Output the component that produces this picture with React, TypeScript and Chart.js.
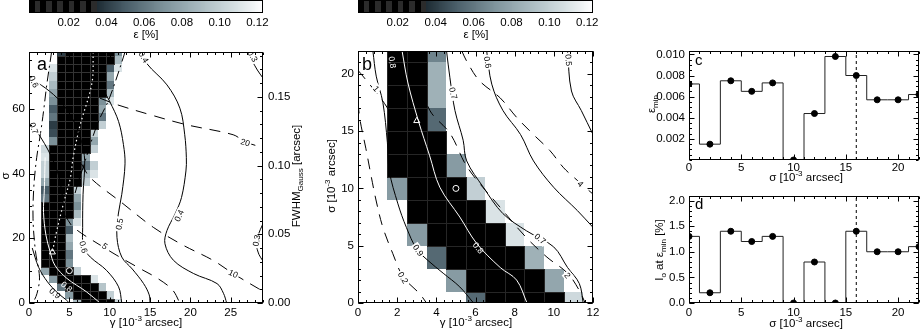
import React, { useEffect, useRef } from 'react';
import { Chart, registerables } from 'chart.js';

Chart.register(...registerables);

const FONT = "'Liberation Sans', Arial, Helvetica, sans-serif";
Chart.defaults.font.family = FONT;
Chart.defaults.font.size = 11.5;
Chart.defaults.color = '#000';

type Pt = [number, number];

// ---------------- colour bar ----------------
const CB_MIN = -0.001;
const CB_MAX = 0.123;
const CB_TICKS = [0.02, 0.04, 0.06, 0.08, 0.1, 0.12];
const CB_BLACK_END = 0.035;
const CB_STRIPE = 0.003;
const CMAP_STOPS: [number, number[]][] = [
  [0.035, [30, 44, 52]],
  [0.05, [72, 92, 103]],
  [0.07, [124, 145, 153]],
  [0.09, [170, 187, 193]],
  [0.11, [218, 227, 230]],
  [0.123, [255, 255, 255]],
];

// ---------------- panel a ----------------
const A_X_MAX = 29;
const A_Y_MAX = 77.6;
const FWHM_PER_SIGMA = 0.0023548;
const A_X_TICKS = [0, 5, 10, 15, 20, 25];
const A_Y_TICKS = [0, 20, 40, 60];
const A_Y2_TICKS = [0, 0.05, 0.1, 0.15];
const A_GAMMA = [0, 1, 2, 3, 4, 5, 6, 7, 8, 9, 10, 11, 12];
const A_SIGMA = [0, 2.5, 5, 7.5, 10, 12.5, 15, 17.5, 20, 22.5, 25, 27.5, 30, 32.5, 35, 37.5,
  40, 42.5, 45, 47.5, 50, 52.5, 55, 57.5, 60, 62.5, 65, 67.5, 70, 72.5, 75, 77.5];
const W = 0.2; // above the colour range -> white
const B = 0.01; // black
const A_EPS: number[][] = [
  [W, W, W, W, W, W, 0.09, B, B, B, B, 0.105],
  [W, W, W, W, W, 0.075, B, B, B, B, 0.1],
  [W, W, W, W, 0.06, B, B, B, B, 0.095],
  [W, W, W, 0.075, B, B, B, B, 0.11],
  [W, W, 0.08, B, B, B, 0.1],
  [W, W, B, B, B, 0.07],
  [W, W, B, B, B, 0.06],
  [W, W, B, B, B, 0.08],
  [W, W, B, B, B, 0.09],
  [W, W, B, B, B, 0.05],
  [W, W, B, B, B, 0.07, 0.11],
  [W, W, B, B, B, B, 0.09],
  [W, W, B, B, B, B, 0.07],
  [W, W, 0.06, B, B, B, 0.08],
  [W, W, 0.05, B, B, B, 0.1],
  [W, W, 0.08, B, B, B, B, 0.1],
  [W, W, 0.1, B, B, B, B, 0.09, 0.11],
  [W, W, 0.1, B, B, B, B, 0.06, 0.1],
  [W, W, 0.11, B, B, B, B, 0.08],
  [W, W, 0.105, B, B, B, B, B, 0.1],
  [W, W, W, 0.07, B, B, B, B, 0.08],
  [W, W, W, 0.045, B, B, B, B, 0.1],
  [W, W, W, 0.04, B, B, B, B, B, 0.1],
  [W, W, W, 0.06, B, B, B, B, B, 0.06],
  [W, W, W, 0.05, B, B, B, B, B, 0.08],
  [W, W, W, 0.07, B, B, B, B, B, 0.07, 0.11],
  [W, W, W, 0.08, B, B, B, B, B, B, 0.09],
  [W, W, W, 0.09, B, B, B, B, B, B, 0.06],
  [W, W, W, 0.1, B, B, B, B, B, B, 0.08],
  [W, W, W, 0.11, B, B, B, B, B, B, 0.05, 0.11],
  [W, W, W, W, B, B, B, B, B, B, B, 0.09],
  [W, W, W, W, 0.04, B, B, B, B, B, B, 0.07],
];
// contours (gamma, sigma)
const A_C03_TOP: Pt[] = [[26.9, 77.6], [27.6, 75], [28.3, 72], [29, 69.5]];
const A_C03_LOW: Pt[] = [[29, 24.5], [28.4, 21], [28.2, 18], [28.5, 15], [29, 13]];
const A_C04: Pt[] = [[14.0, 77.6], [14.6, 74], [17.1, 67.4], [18.7, 60.2], [19.3, 52], [19.5, 44.9], [19.45, 40.8],
  [18.9, 32.6], [18.1, 27.5], [17.1, 22.4], [16.85, 18.3], [17.9, 13.2], [20.4, 9.1], [23.3, 6.0], [24.1, 3.0], [24.5, 0]];
const A_C05: Pt[] = [[9.4, 65], [10.0, 62.3], [11.1, 56.1], [11.7, 49], [11.9, 43], [11.5, 33.6], [11.07, 27.5],
  [10.9, 20.3], [11.5, 14.2], [12.8, 10.5], [14.2, 6], [14.9, 2.5], [15.0, 0]];
const A_C06: Pt[] = [[0, 69.5], [2, 66.5], [4, 62], [5.6, 56], [6.5, 50], [6.9, 44], [6.7, 33.6], [6.65, 23.4],
  [6.75, 17.3], [7.6, 14.2], [9.6, 10.1], [11.1, 5], [11.5, 0]];
const A_C07: Pt[] = [[0, 56], [1.5, 51], [3, 44], [3.8, 38], [4.3, 30]];
const A_C09: Pt[] = [[0.4, 17], [1.2, 11], [2.3, 6.5], [3.6, 3], [4.6, 1], [5.0, 0]];
const A_C08_WHITE: Pt[] = [[2.0, 45], [1.9, 35], [1.8, 28], [2.1, 21], [2.6, 16], [3.2, 11.7], [4.7, 7.6], [7.1, 3.5], [8.8, 0]];
const A_DOTTED_WHITE: Pt[] = [[7.96, 77.6], [7.8, 68], [6.3, 54.6], [5.5, 45.4], [5.1, 38.3], [4.3, 31], [3.4, 21.9], [2.9, 15.7]];
const A_D5: Pt[] = [[4.5, 27], [5.5, 23.4], [9.2, 17.3], [10.9, 14.7], [13.5, 11], [16, 7.5], [17.8, 4], [18.7, 0]];
const A_D10: Pt[] = [[6.5, 43], [7.6, 38.7], [11.5, 31], [15.4, 23.4], [19, 18], [22.8, 13.2], [25.3, 9.1], [28.4, 4.5], [29, 3.7]];
const A_D20: Pt[] = [[8.8, 63.3], [10.9, 61.3], [15, 58.2], [19.5, 55.1], [25.3, 52], [26.8, 49.8], [29, 48]];
const A_DD_LEFT: Pt[] = [[2.8, 77.6], [2.2, 67.4], [1.8, 59.2], [1.4, 52], [0.95, 44.9], [0.6, 36], [0.5, 26], [0.8, 16], [1.3, 8], [1.0, 3], [0.5, 0]];
const A_DD_RIGHT: Pt[] = [[11.9, 77.6], [11.7, 76], [10.7, 68.4], [9.8, 62.3], [8.6, 56.1], [7.6, 49], [6.7, 41.8], [6.3, 39], [5.6, 33]];
const A_CIRCLE: Pt = [5, 10];
const A_TRIANGLE: Pt = [2.9, 15.7];

// ---------------- panel b ----------------
const B_X_MAX = 12;
const B_Y_MAX = 22;
const B_X_TICKS = [0, 2, 4, 6, 8, 10, 12];
const B_Y_TICKS = [0, 5, 10, 15, 20];
const B_GAMMA = [0, 1, 2, 3, 4, 5, 6, 7, 8, 9, 10, 11, 12];
const B_SIGMA = [0, 2, 4, 6, 8, 10, 12, 14, 16, 18, 20, 22];
const B_EPS: number[][] = [
  [W, W, W, W, W, W, 0.055, B, B, B, B, 0.105],
  [W, W, W, W, W, 0.075, B, B, B, B, 0.08],
  [W, W, W, W, 0.055, B, B, B, B, 0.085],
  [W, W, W, 0.075, B, B, B, B, 0.11],
  [W, W, W, B, B, B, B, 0.11],
  [W, W, 0.075, B, B, B, 0.1],
  [W, W, B, B, B, 0.075],
  [W, W, B, B, B],
  [W, W, B, B, 0.055],
  [W, W, B, B, 0.085],
  [W, W, B, B, 0.085],
  [W, W, B, B, 0.065],
];
const B_C05: Pt[] = [[10.7, 22], [10.9, 18.5], [11.4, 16.8], [12, 14.7]];
const B_C06: Pt[] = [[6.57, 22], [6.83, 19.1], [7.4, 16.8], [8.3, 14.7], [8.96, 12.4], [9.99, 10.1], [11.2, 8.07], [12, 6.6]];
const B_C07: Pt[] = [[4.52, 22], [4.69, 19.7], [4.95, 16.8], [5.37, 14.2], [5.55, 12.4], [6.4, 10.1], [7.4, 7.8], [8.6, 6.3],
  [9.99, 4.9], [10.7, 3.1], [11.3, 1.7], [11.5, 0]];
const B_C09: Pt[] = [[0.76, 22], [0.93, 19.8], [1.27, 17.5], [1.5, 14], [1.6, 11.5], [2.04, 8.65], [2.47, 6.6], [3.0, 4.7],
  [3.58, 3.7], [4.35, 2.6], [5.2, 1.4], [5.9, 0]];
const B_C08_WHITE: Pt[] = [[2.25, 22], [2.55, 19.2], [3.1, 15.8], [3.65, 12.9], [4.18, 10.1], [5.2, 7.5], [6.06, 5.2], [7.26, 3.1], [8.1, 2], [8.63, 0]];
const B_D2: Pt[] = [[2.9, 22], [3.2, 19.5], [3.67, 16.8], [4.7, 14.8], [5.6, 11.8], [7.26, 8.35], [8.6, 5.7], [9.65, 4], [10.7, 2.6], [11.3, 1.1], [11.6, 0]];
const B_D4: Pt[] = [[5.3, 22], [5.55, 21.1], [6.2, 19.4], [7.26, 17.9], [8.1, 16.2], [8.96, 14.7], [9.8, 13.3], [10.5, 11.8], [11.2, 10.7], [12, 9.5]];
const B_D1: Pt[] = [[0, 20.3], [0.25, 19.8], [1.36, 17.4], [2.0, 15.5]];
const B_D02: Pt[] = [[0, 17.5], [0.1, 16], [0.4, 13.5], [0.68, 11], [0.93, 8.9], [1.27, 6.6], [1.78, 4.3], [2.3, 2.3], [3.15, 0.8], [3.5, 0]];
const B_CIRCLE: Pt = [5, 10];
const B_TRIANGLE: Pt = [3.0, 15.9];

// ---------------- panels c and d ----------------
const CD_SIGMA = [0, 2, 4, 6, 8, 10, 12, 14, 16, 18, 20, 22];
const C_EPS_MIN = [0.0072, 0.0015, 0.0075, 0.0065, 0.0073, 0.0, 0.0044, 0.0098, 0.0080, 0.0057, 0.0057, 0.0062];
const D_IO = [1.3, 0.2, 1.4, 1.2, 1.3, 0.0, 0.8, 0.0, 1.4, 1.0, 1.0, 1.1];
const CD_X_MAX = 22;
const CD_X_TICKS = [0, 5, 10, 15, 20];
const C_Y_MAX = 0.01033;
const C_Y_TICKS = [0.002, 0.004, 0.006, 0.008, 0.01];
const D_Y_MAX = 2.09;
const D_Y_TICKS = [0, 0.5, 1.0, 1.5, 2.0];
const CD_MARK = 16;

// ---------------- helpers ----------------
const DASH_LONG = [11, 8];
const DASH_DOT = [10, 4, 2, 4];
const DOTS = [1.5, 3];

function steps(a: number, b: number, s: number): number[] {
  const out: number[] = [];
  for (let i = 0; a + i * s <= b + 1e-9; i++) out.push(Math.round((a + i * s) * 1e6) / 1e6);
  return out;
}

function cmap(v: number): string | null {
  if (v < CB_BLACK_END) return '#000';
  if (v >= CMAP_STOPS[CMAP_STOPS.length - 1][0]) return null;
  for (let i = 0; i < CMAP_STOPS.length - 1; i++) {
    const [v0, c0] = CMAP_STOPS[i];
    const [v1, c1] = CMAP_STOPS[i + 1];
    if (v >= v0 && v <= v1) {
      const f = (v - v0) / (v1 - v0);
      const c = c0.map((x, j) => Math.round(x + (c1[j] - x) * f));
      return `rgb(${c[0]},${c[1]},${c[2]})`;
    }
  }
  return null;
}

type Seg = { t: string; k?: 'sup' | 'sub' };
type Title = { segs: Seg[]; x: number; y: number; rot: number; size?: number };
type TickSpec = { side: 'top' | 'bottom' | 'left' | 'right'; scale: string; major: number[]; minor: number[] };
type CLabel = { t: string; x: number; y: number; rot: number; white?: boolean; bg?: boolean };
type Cells = { xs: number[]; ys: number[]; vals: number[][]; w: number; h: number; grid: string };
type Decor = {
  cells?: Cells;
  ticks: TickSpec[];
  labels?: CLabel[];
  letter?: { t: string; x: number; y: number; size: number };
  titles: Title[];
  box?: boolean;
  colorbar?: boolean;
};

function drawRich(ctx: CanvasRenderingContext2D, t: Title) {
  const size = t.size ?? 11.5;
  const small = size * 0.7;
  ctx.save();
  ctx.translate(t.x, t.y);
  ctx.rotate((t.rot * Math.PI) / 180);
  let w = 0;
  for (const s of t.segs) {
    ctx.font = `${s.k ? small : size}px ${FONT}`;
    w += ctx.measureText(s.t).width;
  }
  let cx = -w / 2;
  ctx.textBaseline = 'middle';
  ctx.textAlign = 'left';
  ctx.fillStyle = '#000';
  for (const s of t.segs) {
    ctx.font = `${s.k ? small : size}px ${FONT}`;
    const dy = s.k === 'sup' ? -size * 0.35 : s.k === 'sub' ? size * 0.3 : 0;
    ctx.fillText(s.t, cx, dy);
    cx += ctx.measureText(s.t).width;
  }
  ctx.restore();
}

function makeDecor(d: Decor) {
  return {
    id: 'decor',
    beforeDatasetsDraw(chart: any) {
      const { ctx, chartArea: a } = chart;
      if (d.colorbar) {
        const sx = chart.scales.x;
        const step = 0.0005;
        for (let v = CB_MIN; v < CB_MAX; v += step) {
          let col: string | null;
          if (v < CB_BLACK_END) col = Math.floor((v - CB_MIN) / CB_STRIPE) % 2 === 0 ? '#000' : '#2b2b2b';
          else col = cmap(v + step / 2) ?? '#fff';
          const x0 = Math.round(sx.getPixelForValue(v));
          const x1 = Math.round(sx.getPixelForValue(Math.min(v + step, CB_MAX)));
          ctx.fillStyle = col;
          ctx.fillRect(x0, a.top, Math.max(1, x1 - x0), a.bottom - a.top);
        }
      }
      const c = d.cells;
      if (!c) return;
      const sx = chart.scales.x;
      const sy = chart.scales.y;
      ctx.save();
      ctx.beginPath();
      ctx.rect(a.left, a.top, a.right - a.left, a.bottom - a.top);
      ctx.clip();
      const rects: { x0: number; y0: number; x1: number; y1: number; v: number }[] = [];
      c.vals.forEach((row, j) =>
        row.forEach((v, k) => {
          const col = cmap(v);
          if (!col) return;
          const x0 = Math.round(sx.getPixelForValue(c.xs[k] - c.w / 2));
          const x1 = Math.round(sx.getPixelForValue(c.xs[k] + c.w / 2));
          const y0 = Math.round(sy.getPixelForValue(c.ys[j] + c.h / 2));
          const y1 = Math.round(sy.getPixelForValue(c.ys[j] - c.h / 2));
          ctx.fillStyle = col;
          ctx.fillRect(x0, y0, x1 - x0, y1 - y0);
          rects.push({ x0, y0, x1, y1, v });
        })
      );
      ctx.strokeStyle = c.grid;
      ctx.lineWidth = 1;
      for (const r of rects) {
        if (r.v >= CB_BLACK_END) continue;
        ctx.strokeRect(r.x0 + 0.5, r.y0 + 0.5, r.x1 - r.x0, r.y1 - r.y0);
      }
      ctx.restore();
    },
    afterDatasetsDraw(chart: any) {
      if (!d.labels) return;
      const { ctx, chartArea: a } = chart;
      const sx = chart.scales.x;
      const sy = chart.scales.y;
      ctx.save();
      ctx.beginPath();
      ctx.rect(a.left, a.top, a.right - a.left, a.bottom - a.top);
      ctx.clip();
      ctx.font = `8.5px ${FONT}`;
      ctx.textAlign = 'center';
      ctx.textBaseline = 'middle';
      for (const l of d.labels) {
        ctx.save();
        ctx.translate(sx.getPixelForValue(l.x), sy.getPixelForValue(l.y));
        ctx.rotate((l.rot * Math.PI) / 180);
        if (l.bg) {
          const w = ctx.measureText(l.t).width + 3;
          ctx.fillStyle = '#fff';
          ctx.fillRect(-w / 2, -4.5, w, 9);
        }
        ctx.fillStyle = l.white ? '#fff' : '#000';
        ctx.fillText(l.t, 0, 0.5);
        ctx.restore();
      }
      ctx.restore();
    },
    afterDraw(chart: any) {
      const { ctx, chartArea: a } = chart;
      ctx.save();
      ctx.strokeStyle = '#000';
      ctx.lineWidth = 1;
      const L = Math.round(a.left) + 0.5;
      const R = Math.round(a.right) - 0.5;
      const T = Math.round(a.top) + 0.5;
      const Bt = Math.round(a.bottom) - 0.5;
      if (d.box !== false) ctx.strokeRect(L, T, R - L, Bt - T);
      ctx.beginPath();
      for (const s of d.ticks) {
        const sc = chart.scales[s.scale];
        const groups: [number[], number][] = [[s.major, 5], [s.minor, 2.5]];
        for (const [vals, len] of groups) {
          for (const v of vals) {
            const p = Math.round(sc.getPixelForValue(v)) + 0.5;
            if (s.side === 'bottom') { ctx.moveTo(p, Bt); ctx.lineTo(p, Bt - len); }
            if (s.side === 'top') { ctx.moveTo(p, T); ctx.lineTo(p, T + len); }
            if (s.side === 'left') { ctx.moveTo(L, p); ctx.lineTo(L + len, p); }
            if (s.side === 'right') { ctx.moveTo(R, p); ctx.lineTo(R - len, p); }
          }
        }
      }
      ctx.stroke();
      if (d.letter) {
        ctx.font = `${d.letter.size}px ${FONT}`;
        ctx.fillStyle = '#000';
        ctx.textAlign = 'left';
        ctx.textBaseline = 'alphabetic';
        ctx.fillText(d.letter.t, d.letter.x, d.letter.y);
      }
      ctx.restore();
      for (const t of d.titles) drawRich(ctx, t);
    },
  };
}

const pts = (p: Pt[]) => p.map(([x, y]) => ({ x, y }));

function contour(p: Pt[], color = '#000', dash: number[] = [], width = 1) {
  return {
    data: pts(p),
    showLine: true,
    borderColor: color,
    borderWidth: width,
    borderDash: dash,
    pointRadius: 0,
    tension: 0.35,
    fill: false,
    clip: 0,
  };
}

function marker(p: Pt, style: string, r: number) {
  return {
    data: [{ x: p[0], y: p[1] }],
    showLine: false,
    pointStyle: style,
    pointRadius: r,
    pointBorderColor: '#fff',
    pointBackgroundColor: 'rgba(0,0,0,0)',
    pointBorderWidth: 1,
    clip: 0,
  };
}

const SUP3: Seg[] = [{ t: '10' }, { t: '-3', k: 'sup' }, { t: ' arcsec]' }];

function axis(min: number, max: number, ticks: number[], fmt: (v: number) => string, pos: string, size: number, pad: number) {
  const horiz = pos === 'top' || pos === 'bottom';
  return {
    type: 'linear',
    position: pos,
    min,
    max,
    afterBuildTicks: (s: any) => { s.ticks = ticks.map((value) => ({ value })); },
    afterFit: (s: any) => { if (horiz) s.height = size; else s.width = size; },
    grid: { display: false, drawTicks: false },
    border: { display: false },
    ticks: { padding: pad, autoSkip: false, maxRotation: 0, minRotation: 0, callback: (v: any) => fmt(Number(v)) },
  };
}

const baseOpts = (padding: any, scales: any) => ({
  animation: false,
  responsive: false,
  maintainAspectRatio: false,
  events: [],
  layout: { padding },
  plugins: { legend: { display: false }, tooltip: { enabled: false }, title: { display: false } },
  scales,
});

function colorbarChart(canvas: HTMLCanvasElement, left: number, right: number, titleX: number) {
  return new Chart(canvas, {
    type: 'scatter',
    data: { datasets: [] },
    options: baseOpts({ left, right, top: 0, bottom: 0 }, {
      x: axis(CB_MIN, CB_MAX, CB_TICKS, (v) => v.toFixed(2), 'bottom', 29, 3),
      y: { display: false, min: 0, max: 1 },
    }) as any,
    plugins: [makeDecor({ colorbar: true, ticks: [], titles: [{ segs: [{ t: 'ε [%]' }], x: titleX, y: 35, rot: 0 }] })],
  } as any);
}

function panelA(canvas: HTMLCanvasElement) {
  const decor = makeDecor({
    cells: { xs: A_GAMMA, ys: A_SIGMA, vals: A_EPS, w: 1, h: 2.5, grid: '#333' },
    ticks: [
      { side: 'bottom', scale: 'x', major: A_X_TICKS, minor: steps(0, A_X_MAX, 1) },
      { side: 'top', scale: 'x', major: A_X_TICKS, minor: steps(0, A_X_MAX, 1) },
      { side: 'left', scale: 'y', major: A_Y_TICKS, minor: steps(0, A_Y_MAX, 5) },
      { side: 'right', scale: 'y2', major: A_Y2_TICKS, minor: steps(0, A_Y_MAX * FWHM_PER_SIGMA, 0.01) },
    ],
    labels: [
      { t: '0.3', x: 27.7, y: 76.3, rot: 60, bg: true },
      { t: '0.4', x: 14.2, y: 76.0, rot: 60, bg: true },
      { t: '0.6', x: 0.6, y: 68.4, rot: 65, bg: true },
      { t: '0.7', x: 0.6, y: 54, rot: 70, bg: true },
      { t: '20', x: 26.8, y: 49.6, rot: 15, bg: true },
      { t: '10', x: 25.3, y: 9.1, rot: 25, bg: true },
      { t: '5', x: 9.4, y: 17.5, rot: 35, bg: true },
      { t: '0.6', x: 6.75, y: 17.3, rot: 75, bg: true },
      { t: '0.5', x: 11.2, y: 24.4, rot: -80, bg: true },
      { t: '0.4', x: 18.6, y: 27.0, rot: -65, bg: true },
      { t: '0.3', x: 28.2, y: 19.3, rot: -80, bg: true },
      { t: '0.8', x: 4.67, y: 5.0, rot: 40, white: true },
      { t: '0.9', x: 3.2, y: 3.0, rot: 40 },
    ],
    letter: { t: 'a', x: 37, y: 30, size: 18 },
    titles: [
      { segs: [{ t: 'γ [' }, ...SUP3], x: 146, y: 283, rot: 0 },
      { segs: [{ t: 'σ' }], x: 6, y: 136, rot: -90 },
      { segs: [{ t: 'FWHM' }, { t: 'Gauss', k: 'sub' }, { t: ' [arcsec]' }], x: 297, y: 136, rot: -90 },
    ],
  });
  return new Chart(canvas, {
    type: 'scatter',
    data: {
      datasets: [
        contour(A_C03_TOP), contour(A_C03_LOW), contour(A_C04), contour(A_C05), contour(A_C06), contour(A_C07),
        contour(A_C09),
        contour(A_D5, '#000', DASH_LONG), contour(A_D10, '#000', DASH_LONG), contour(A_D20, '#000', DASH_LONG),
        contour(A_DD_LEFT, '#000', DASH_DOT), contour(A_DD_RIGHT, '#000', DASH_DOT),
        contour(A_C08_WHITE, '#fff'), contour(A_DOTTED_WHITE, '#fff', DOTS, 1.2),
        marker(A_CIRCLE, 'circle', 3), marker(A_TRIANGLE, 'triangle', 3.5),
      ],
    },
    options: baseOpts({ left: 0, right: 0, top: 10, bottom: 0 }, {
      x: axis(0, A_X_MAX, A_X_TICKS, (v) => String(v), 'bottom', 28, 3),
      y: axis(0, A_Y_MAX, A_Y_TICKS, (v) => String(v), 'left', 29, 4),
      y2: axis(0, A_Y_MAX * FWHM_PER_SIGMA, A_Y2_TICKS, (v) => v.toFixed(2), 'right', 47, 5),
    }) as any,
    plugins: [decor],
  } as any);
}

function panelB(canvas: HTMLCanvasElement) {
  const decor = makeDecor({
    cells: { xs: B_GAMMA, ys: B_SIGMA, vals: B_EPS, w: 1, h: 2, grid: '#262626' },
    ticks: [
      { side: 'bottom', scale: 'x', major: B_X_TICKS, minor: steps(0, B_X_MAX, 0.4) },
      { side: 'top', scale: 'x', major: B_X_TICKS, minor: steps(0, B_X_MAX, 0.4) },
      { side: 'left', scale: 'y', major: B_Y_TICKS, minor: steps(0, B_Y_MAX, 1) },
      { side: 'right', scale: 'y', major: B_Y_TICKS, minor: steps(0, B_Y_MAX, 1) },
    ],
    labels: [
      { t: '0.8', x: 1.75, y: 21.0, rot: 80, white: true },
      { t: '0.6', x: 6.62, y: 21.0, rot: 80, bg: true },
      { t: '0.5', x: 10.75, y: 21.2, rot: 85, bg: true },
      { t: '0.7', x: 4.86, y: 18.3, rot: 75, bg: true },
      { t: '1', x: 0.93, y: 18.7, rot: 50, bg: true },
      { t: '4', x: 11.36, y: 10.4, rot: 45, bg: true },
      { t: '0.7', x: 9.3, y: 5.6, rot: 40, bg: true },
      { t: '2', x: 10.7, y: 2.4, rot: 50, bg: true },
      { t: '0.8', x: 6.14, y: 4.8, rot: 50, white: true },
      { t: '0.9', x: 3.07, y: 4.6, rot: 55, bg: true },
      { t: '0.2', x: 2.3, y: 2.2, rot: 60, bg: true },
    ],
    letter: { t: 'b', x: 62, y: 30, size: 18 },
    titles: [
      { segs: [{ t: 'γ [' }, ...SUP3], x: 176, y: 283, rot: 0 },
      { segs: [{ t: 'σ [' }, ...SUP3], x: 32, y: 136, rot: -90 },
    ],
  });
  return new Chart(canvas, {
    type: 'scatter',
    data: {
      datasets: [
        contour(B_C05), contour(B_C06), contour(B_C07), contour(B_C09),
        contour(B_D2, '#000', DASH_LONG), contour(B_D4, '#000', DASH_LONG), contour(B_D1, '#000', DASH_LONG),
        contour(B_D02, '#000', DASH_LONG),
        contour(B_C08_WHITE, '#fff'),
        marker(B_CIRCLE, 'circle', 3), marker(B_TRIANGLE, 'triangle', 3.5),
      ],
    },
    options: baseOpts({ left: 0, right: 37, top: 10, bottom: 0 }, {
      x: axis(0, B_X_MAX, B_X_TICKS, (v) => String(v), 'bottom', 28, 3),
      y: axis(0, B_Y_MAX, B_Y_TICKS, (v) => String(v), 'left', 58, 4),
    }) as any,
    plugins: [decor],
  } as any);
}

function stepPanel(canvas: HTMLCanvasElement, values: number[], yMax: number, yTicks: number[], fmt: (v: number) => string,
  minorStep: number, letterT: string, padTop: number, xAxisH: number, xPad: number, titles: Title[]) {
  const decor = makeDecor({
    ticks: [
      { side: 'bottom', scale: 'x', major: CD_X_TICKS, minor: steps(0, CD_X_MAX, 1) },
      { side: 'top', scale: 'x', major: CD_X_TICKS, minor: steps(0, CD_X_MAX, 1) },
      { side: 'left', scale: 'y', major: yTicks, minor: steps(0, yMax, minorStep) },
      { side: 'right', scale: 'y', major: yTicks, minor: steps(0, yMax, minorStep) },
    ],
    letter: { t: letterT, x: 65, y: padTop + 16, size: 15 },
    titles,
  });
  return new Chart(canvas, {
    type: 'scatter',
    data: {
      datasets: [
        {
          data: [{ x: CD_MARK, y: 0 }, { x: CD_MARK, y: yMax }],
          showLine: true, borderColor: '#000', borderWidth: 1, borderDash: [3, 3], pointRadius: 0, clip: 0,
        },
        {
          data: CD_SIGMA.map((x, i) => ({ x, y: values[i] })),
          showLine: true, stepped: 'middle', borderColor: '#222', borderWidth: 1,
          pointRadius: 3, pointBorderWidth: 1, pointBackgroundColor: '#000', pointBorderColor: '#000', clip: 0,
        },
      ],
    },
    options: baseOpts({ left: 0, right: 1, top: padTop, bottom: 0 }, {
      x: axis(0, CD_X_MAX, CD_X_TICKS, (v) => String(v), 'bottom', xAxisH, xPad),
      y: axis(0, yMax, yTicks, fmt, 'left', 59, 4),
    }) as any,
    plugins: [decor],
  } as any);
}

const LAYOUT = {
  cbA: { left: 0, top: 0, w: 310, h: 42 },
  a: { left: 0, top: 40, w: 310, h: 291 },
  cbB: { left: 300, top: 0, w: 330, h: 42 },
  b: { left: 300, top: 40, w: 330, h: 291 },
  c: { left: 630, top: 40, w: 294, h: 150 },
  d: { left: 630, top: 185, w: 294, h: 146 },
};

export default function App() {
  const cbA = useRef<HTMLCanvasElement>(null);
  const a = useRef<HTMLCanvasElement>(null);
  const cbB = useRef<HTMLCanvasElement>(null);
  const b = useRef<HTMLCanvasElement>(null);
  const c = useRef<HTMLCanvasElement>(null);
  const d = useRef<HTMLCanvasElement>(null);

  useEffect(() => {
    const charts: Chart[] = [
      colorbarChart(cbA.current!, 29, 47, 146),
      colorbarChart(cbB.current!, 58, 37, 176),
      panelA(a.current!),
      panelB(b.current!),
      stepPanel(c.current!, C_EPS_MIN, C_Y_MAX, C_Y_TICKS, (v) => v.toFixed(3), 0.0005, 'c', 9, 30, 1, [
        { segs: [{ t: 'σ [' }, ...SUP3], x: 176, y: 138, rot: 0 },
        { segs: [{ t: 'ε' }, { t: 'min', k: 'sub' }], x: 22, y: 64, rot: -90 },
      ]),
      stepPanel(d.current!, D_IO, D_Y_MAX, D_Y_TICKS, (v) => v.toFixed(1), 0.1, 'd', 8, 28, 3, [
        { segs: [{ t: 'σ [' }, ...SUP3], x: 176, y: 139, rot: 0 },
        { segs: [{ t: 'I' }, { t: 'o', k: 'sub' }, { t: ' at ε' }, { t: 'min', k: 'sub' }, { t: ' [%]' }], x: 30, y: 65, rot: -90 },
      ]),
    ];
    return () => charts.forEach((ch) => ch.destroy());
  }, []);

  const cv = (ref: any, l: { left: number; top: number; w: number; h: number }) => (
    <canvas ref={ref} width={l.w} height={l.h}
      style={{ position: 'absolute', left: l.left, top: l.top, width: l.w, height: l.h }} />
  );

  return (
    <div style={{ position: 'absolute', left: 0, top: 0, width: 924, height: 331, background: '#fff', overflow: 'hidden' }}>
      {cv(cbA, LAYOUT.cbA)}
      {cv(cbB, LAYOUT.cbB)}
      {cv(a, LAYOUT.a)}
      {cv(b, LAYOUT.b)}
      {cv(c, LAYOUT.c)}
      {cv(d, LAYOUT.d)}
    </div>
  );
}
